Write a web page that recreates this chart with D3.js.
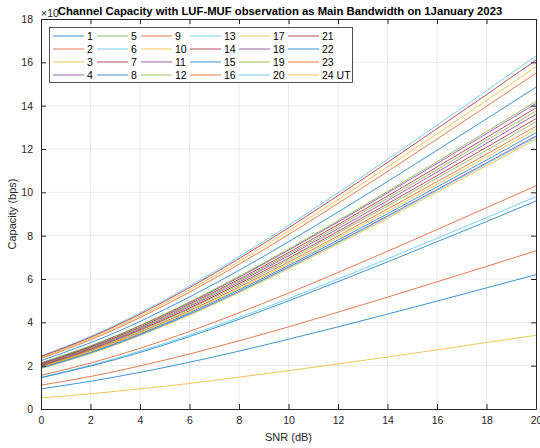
<!DOCTYPE html>
<html>
<head>
<meta charset="utf-8">
<script src="https://cdn.jsdelivr.net/npm/d3@7"></script>
<style>
  body { margin: 0; background: #fff; }
  text { font-family: "Liberation Sans", Arial, sans-serif; }
</style>
</head>
<body>
<div id="chart"></div>
<script>
// SNR points (dB) and hour labels
var snr = [0, 2, 4, 6, 8, 10, 12, 14, 16, 18, 20];
var hourLabels = ["1","2","3","4","5","6","7","8","9","10","11","12",
                  "13","14","15","16","17","18","19","20","21","22","23","24 UT"];

// capacity (axis units, x10^n bps)
var cap1  = [0.93, 1.28, 1.69, 2.16, 2.67, 3.22, 3.79, 4.38, 4.98, 5.59, 6.20];
var cap2  = [1.10, 1.50, 1.99, 2.54, 3.15, 3.79, 4.47, 5.16, 5.87, 6.58, 7.30];
var cap3  = [1.87, 2.56, 3.39, 4.33, 5.37, 6.47, 7.62, 8.80, 10.01, 11.22, 12.45];
var cap4  = [1.89, 2.59, 3.43, 4.38, 5.43, 6.55, 7.71, 8.91, 10.13, 11.36, 12.60];
var cap5  = [1.99, 2.73, 3.61, 4.61, 5.71, 6.88, 8.11, 9.37, 10.65, 11.94, 13.25];
var cap6  = [1.47, 2.02, 2.67, 3.41, 4.22, 5.09, 6.00, 6.93, 7.88, 8.83, 9.80];
var cap7  = [2.01, 2.76, 3.65, 4.66, 5.78, 6.96, 8.20, 9.47, 10.77, 12.08, 13.40];
var cap8  = [1.92, 2.62, 3.47, 4.44, 5.50, 6.62, 7.80, 9.01, 10.25, 11.49, 12.75];
var cap9  = [1.96, 2.69, 3.55, 4.54, 5.63, 6.78, 7.99, 9.23, 10.49, 11.76, 13.05];
var cap10 = [1.94, 2.65, 3.51, 4.49, 5.56, 6.70, 7.90, 9.12, 10.37, 11.63, 12.90];
var cap11 = [2.04, 2.80, 3.70, 4.73, 5.86, 7.07, 8.32, 9.61, 10.93, 12.26, 13.60];
var cap12 = [2.07, 2.83, 3.74, 4.78, 5.93, 7.14, 8.42, 9.72, 11.05, 12.40, 13.75];
var cap13 = [1.88, 2.58, 3.42, 4.37, 5.41, 6.52, 7.68, 8.87, 10.09, 11.31, 12.55];
var cap14 = [2.09, 2.86, 3.78, 4.84, 5.99, 7.22, 8.51, 9.83, 11.17, 12.53, 13.90];
var cap15 = [2.23, 3.06, 4.04, 5.17, 6.40, 7.72, 9.09, 10.50, 11.94, 13.39, 14.85];
var cap16 = [2.33, 3.19, 4.22, 5.39, 6.68, 8.05, 9.49, 10.96, 12.46, 13.97, 15.50];
var cap17 = [2.37, 3.25, 4.30, 5.50, 6.81, 8.21, 9.67, 11.17, 12.70, 14.24, 15.80];
var cap18 = [2.12, 2.90, 3.84, 4.90, 6.08, 7.33, 8.63, 9.97, 11.33, 12.71, 14.10];
var cap19 = [2.13, 2.92, 3.86, 4.94, 6.12, 7.38, 8.69, 10.04, 11.41, 12.80, 14.20];
var cap20 = [2.45, 3.35, 4.44, 5.67, 7.03, 8.47, 9.98, 11.52, 13.10, 14.69, 16.30];
var cap21 = [2.42, 3.31, 4.38, 5.60, 6.94, 8.36, 9.85, 11.38, 12.94, 14.51, 16.10];
var cap22 = [1.44, 1.98, 2.61, 3.34, 4.14, 4.99, 5.88, 6.79, 7.72, 8.65, 9.60];
var cap23 = [1.55, 2.12, 2.80, 3.58, 4.44, 5.35, 6.30, 7.28, 8.28, 9.29, 10.30];
var cap24 = [0.51, 0.70, 0.93, 1.18, 1.47, 1.77, 2.08, 2.40, 2.73, 3.07, 3.40];

var series = [cap1, cap2, cap3, cap4, cap5, cap6, cap7, cap8, cap9, cap10, cap11, cap12,
              cap13, cap14, cap15, cap16, cap17, cap18, cap19, cap20, cap21, cap22, cap23, cap24];

var xTicks = [0, 2, 4, 6, 8, 10, 12, 14, 16, 18, 20];
var yTicks = [0, 2, 4, 6, 8, 10, 12, 14, 16, 18];

// matlab default line colours
var colors = ["#0072BD", "#D95319", "#EDB120", "#7E2F8E", "#77AC30", "#4DBEEE", "#A2142F"];

var W = 540, H = 448;
var plot = {left: 41, right: 536, top: 19, bottom: 409};
var axisColor = "#262626";

var svg = d3.select("#chart").append("svg")
    .attr("width", W)
    .attr("height", H);

var x = d3.scaleLinear().domain([0, 20]).range([plot.left, plot.right]);
var y = d3.scaleLinear().domain([0, 18]).range([plot.bottom, plot.top]);

// grid
svg.append("g").selectAll("line")
    .data(xTicks.slice(1, -1))
    .enter().append("line")
    .attr("x1", function(d) { return x(d); })
    .attr("x2", function(d) { return x(d); })
    .attr("y1", plot.top).attr("y2", plot.bottom)
    .attr("stroke", "#e3e3e3").attr("stroke-width", 0.8);

svg.append("g").selectAll("line")
    .data(yTicks.slice(1, -1))
    .enter().append("line")
    .attr("y1", function(d) { return y(d); })
    .attr("y2", function(d) { return y(d); })
    .attr("x1", plot.left).attr("x2", plot.right)
    .attr("stroke", "#e3e3e3").attr("stroke-width", 0.8);

// lines
var line = d3.line()
    .x(function(d, i) { return x(snr[i]); })
    .y(function(d) { return y(d); })
    .curve(d3.curveNatural);

svg.append("g").selectAll("path")
    .data(series)
    .enter().append("path")
    .attr("d", line)
    .attr("fill", "none")
    .attr("stroke", function(d, i) { return colors[i % 7]; })
    .attr("stroke-width", 0.9)
    .attr("stroke-opacity", 0.85);

// axes, matlab box style with inner ticks
var xAxis = d3.axisBottom(x).tickValues(xTicks).tickSizeInner(-5).tickSizeOuter(0).tickPadding(8);
var yAxis = d3.axisLeft(y).tickValues(yTicks).tickSizeInner(-5).tickSizeOuter(0).tickPadding(8);
var xAxisTop = d3.axisTop(x).tickValues(xTicks).tickSizeInner(-5).tickSizeOuter(0).tickFormat("");
var yAxisRight = d3.axisRight(y).tickValues(yTicks).tickSizeInner(-5).tickSizeOuter(0).tickFormat("");

function styleAxis(g) {
  g.selectAll("path, line").attr("stroke", axisColor);
  g.select(".domain").attr("stroke-width", 1);
  g.selectAll("text").attr("fill", axisColor).style("font-size", "10.5px");
}

svg.append("g").attr("transform", "translate(0," + plot.bottom + ")").call(xAxis).call(styleAxis);
svg.append("g").attr("transform", "translate(" + plot.left + ",0)").call(yAxis).call(styleAxis);
svg.append("g").attr("transform", "translate(0," + plot.top + ")").call(xAxisTop).call(styleAxis);
svg.append("g").attr("transform", "translate(" + plot.right + ",0)").call(yAxisRight).call(styleAxis);

// axis titles
svg.append("text")
    .attr("x", (plot.left + plot.right) / 2)
    .attr("y", 441)
    .attr("text-anchor", "middle")
    .attr("fill", axisColor)
    .style("font-size", "11px")
    .text("SNR (dB)");

svg.append("text")
    .attr("transform", "translate(16," + ((plot.top + plot.bottom) / 2) + ") rotate(-90)")
    .attr("text-anchor", "middle")
    .attr("fill", axisColor)
    .style("font-size", "11px")
    .text("Capacity (bps)");

// exponent label (mostly covered by the title)
svg.append("text")
    .attr("x", plot.left)
    .attr("y", 17)
    .attr("fill", axisColor)
    .style("font-size", "10.5px")
    .text("×10");

svg.append("text")
    .attr("x", 280)
    .attr("y", 15)
    .attr("text-anchor", "middle")
    .attr("fill", "#000")
    .style("font-size", "11.3px")
    .style("font-weight", "bold")
    .text("Channel Capacity with LUF-MUF observation as Main Bandwidth on 1January 2023");

// legend
var legX = [53, 97, 141, 190, 239, 288];
var legY = [36, 49, 62, 75];

var legend = svg.append("g");
legend.append("rect")
    .attr("x", 49.5).attr("y", 27.5)
    .attr("width", 303).attr("height", 55)
    .attr("fill", "#fff")
    .attr("stroke", "#262626")
    .attr("stroke-width", 0.8);

var items = legend.selectAll("g.item")
    .data(hourLabels)
    .enter().append("g")
    .attr("class", "item")
    .attr("transform", function(d, i) {
      return "translate(" + legX[Math.floor(i / 4)] + "," + legY[i % 4] + ")";
    });

items.append("line")
    .attr("x1", 0).attr("x2", 31)
    .attr("stroke", function(d, i) { return colors[i % 7]; })
    .attr("stroke-width", 0.9)
    .attr("stroke-opacity", 0.85);

items.append("text")
    .attr("x", 34)
    .attr("dy", "0.35em")
    .attr("fill", "#000")
    .style("font-size", "10.5px")
    .text(function(d) { return d; });
</script>
</body>
</html>
